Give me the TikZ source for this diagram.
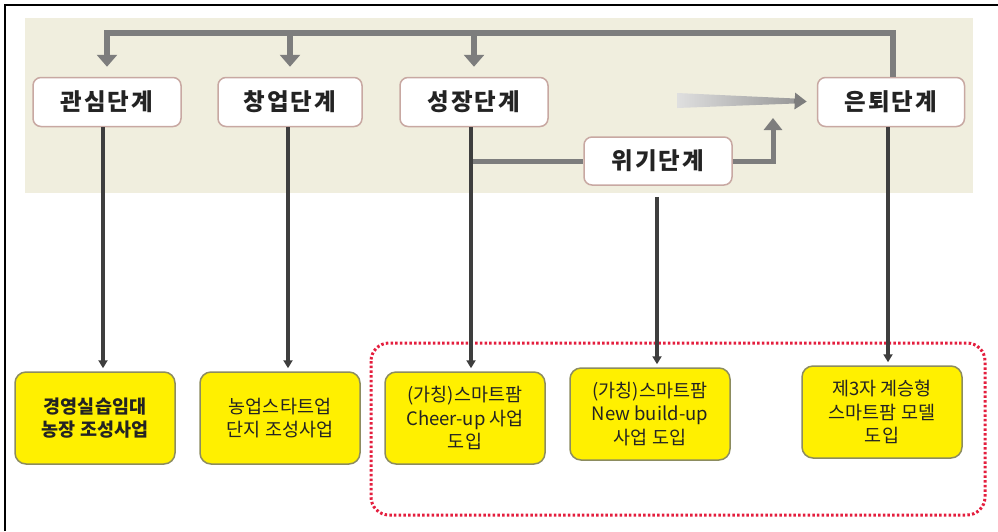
\documentclass[tikz,border=0pt]{standalone}
\usepackage{fontspec}
\setmainfont{Noto Sans CJK KR}
\usetikzlibrary{arrows.meta}
\definecolor{bg}{RGB}{240,238,222}
\definecolor{stageborder}{RGB}{200,168,162}
\definecolor{gline}{RGB}{125,125,125}
\definecolor{dline}{RGB}{62,62,62}
\definecolor{yfill}{RGB}{255,240,0}
\definecolor{yborder}{RGB}{140,140,95}
\definecolor{redd}{RGB}{228,30,62}
\definecolor{txt}{RGB}{35,35,35}
\tikzset{
  stage/.style={draw=stageborder, line width=1.5pt, fill=white, rounded corners=8pt,
    minimum width=148pt, minimum height=49pt, inner sep=0pt, text=txt,
    font=\bfseries\fontsize{23.5}{27}\selectfont\addfontfeatures{LetterSpace=8}},
  ybox/.style={draw=yborder, line width=1.5pt, fill=yfill, rounded corners=11pt,
    minimum width=160pt, minimum height=92pt, inner sep=0pt, align=center, text=txt,
    font=\fontsize{18.5}{23.5}\selectfont},
  garrow/.style={draw=gline, line width=6pt, -{Triangle[width=20pt,length=12pt]}},
  gline/.style={draw=gline, line width=5pt},
  darrow/.style={draw=dline, line width=3.5pt, -{Triangle[width=9pt,length=8pt]}},
}
\begin{document}
\begin{tikzpicture}[x=1pt,y=-1pt]
\useasboundingbox (0,0) rectangle (998,531);
\draw[black, line width=1.5pt] (5,531) -- (5,5) -- (998,5);
\fill[bg] (25,18) rectangle (973,193);
% stage nodes
\node[stage] (s1) at (107,102) {관심단계};
\node[stage, minimum width=144pt] (s2) at (290,102) {창업단계};
\node[stage] (s3) at (474,102) {성장단계};
\node[stage, minimum width=147pt] (s5) at (891,102) {은퇴단계};
\node[stage, minimum height=48pt] (s4) at (658,161) {위기단계};
% top connectors
\coordinate (c1) at (107,33);
\coordinate (c2) at (290,33);
\coordinate (c3) at (474,33);
\coordinate (c5) at (893,33);
\draw[garrow, shorten >=10pt] (s5.north -| c5) -- (c5) -- (c1) -- (s1.north);
\draw[garrow, shorten >=10pt] (c2) -- (s2.north);
\draw[garrow, shorten >=10pt] (c3) -- (s3.north);
% gradient arrow
\coordinate (w) at (677,100.5);
\shade[left color=gray!25, right color=gray!80] (677,93) -- (795,98.5) -- (795,103.5) -- (677,108) -- cycle;
\draw[draw=gline, line width=4pt, -{Triangle[width=16pt,length=12pt]}, shorten >=10pt] (794,101) -- (s5.west);
% crisis branch
\draw[gline] (471,161) -- (s4.west);
\coordinate (up) at (773,118);
\draw[garrow, line width=5pt, -{Triangle[width=18pt,length=12pt]}] (s4.east) -| (up);
% yellow boxes
\node[ybox] (y1) at (95,418) {\bfseries 경영실습임대\\\bfseries 농장 조성사업};
\node[ybox] (y2) at (280,418) {농업스타트업\\단지 조성사업};
\node[ybox] (y3) at (465,418) {(가칭)스마트팜\\Cheer-up 사업\\도입};
\node[ybox] (y4) at (650,414) {(가칭)스마트팜\\New build-up\\사업 도입};
\node[ybox] (y5) at (882,412) {제3자 계승형\\스마트팜 모델\\도입};
% red dotted group
\draw[redd, line width=3pt, dash pattern=on 2.5pt off 2.2pt, rounded corners=18pt] (371,343) rectangle (985,515);
% down connectors
\draw[darrow, shorten >=3pt] ([xshift=-4pt]s1.south) -- ([xshift=-4pt]s1.south |- y1.north);
\draw[darrow, shorten >=3pt] ([xshift=-2pt]s2.south) -- ([xshift=-2pt]s2.south |- y2.north);
\draw[darrow, shorten >=3pt] ([xshift=-3pt]s3.south) -- ([xshift=-3pt]s3.south |- y3.north);
\draw[darrow, shorten >=3pt, shorten <=11pt] ([xshift=-1pt]s4.south) -- ([xshift=-1pt]s4.south |- y4.north);
\draw[darrow, shorten >=3pt] ([xshift=-3pt]s5.south) -- ([xshift=-3pt]s5.south |- y5.north);
\end{tikzpicture}
\end{document}
